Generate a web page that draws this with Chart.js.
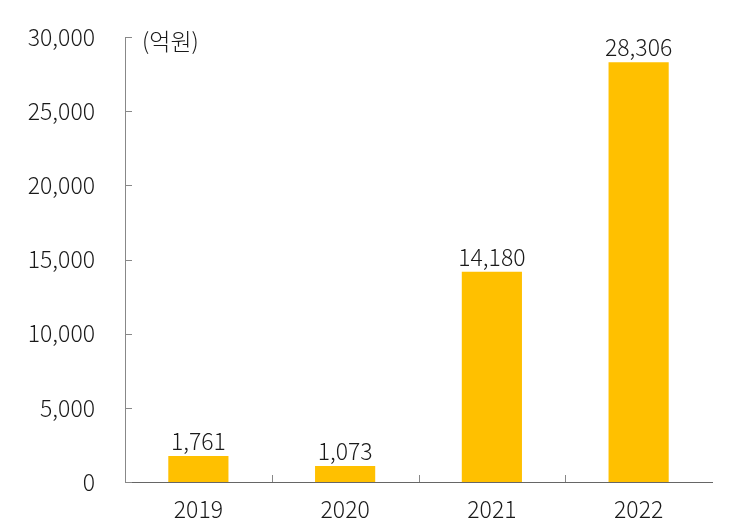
<!DOCTYPE html>
<html>
<head>
<meta charset="utf-8">
<script src="https://cdn.jsdelivr.net/npm/chart.js@4"></script>
<style>
  html, body { margin: 0; padding: 0; background: #fff; }
  #wrap { width: 730px; height: 525px; }
</style>
</head>
<body>
<div id="wrap"><canvas id="chart" width="730" height="525"></canvas></div>
<script>
const years = ["2019", "2020", "2021", "2022"];
const amounts = [1761, 1073, 14180, 28306];
const yTicks = [0, 5000, 10000, 15000, 20000, 25000, 30000];
const unitLabel = "(억원)";

const FONT = "'Noto Sans CJK KR', 'Noto Sans', sans-serif";

// inner tick marks + value labels + unit text
const decorPlugin = {
  id: "decor",
  afterDraw(chart) {
    const ctx = chart.ctx;
    const x = chart.scales.x;
    const y = chart.scales.y;
    const area = chart.chartArea;
    ctx.save();
    ctx.strokeStyle = "#888";
    ctx.lineWidth = 1;
    yTicks.forEach(v => {
      const py = Math.round(y.getPixelForValue(v)) + 0.5;
      ctx.beginPath();
      ctx.moveTo(area.left, py);
      ctx.lineTo(area.left + 7, py);
      ctx.stroke();
    });
    for (let i = 1; i < years.length; i++) {
      const px = Math.round((x.getPixelForValue(i - 1) + x.getPixelForValue(i)) / 2) + 0.5;
      ctx.beginPath();
      ctx.moveTo(px, area.bottom);
      ctx.lineTo(px, area.bottom - 7);
      ctx.stroke();
    }

    ctx.fillStyle = "#1a1a1a";
    ctx.font = "300 23px " + FONT;
    ctx.textAlign = "center";
    ctx.textBaseline = "bottom";
    const meta = chart.getDatasetMeta(0);
    meta.data.forEach((bar, i) => {
      ctx.fillText(amounts[i].toLocaleString("en-US"), bar.x, bar.y - 3);
    });

    ctx.textAlign = "left";
    ctx.textBaseline = "middle";
    ctx.fillText(unitLabel, area.left + 17, area.top + 4);
    ctx.restore();
  }
};

new Chart(document.getElementById("chart"), {
  type: "bar",
  data: {
    labels: years,
    datasets: [{
      data: amounts,
      backgroundColor: "#FFC000",
      categoryPercentage: 0.41,
      barPercentage: 1
    }]
  },
  options: {
    responsive: false,
    animation: false,
    devicePixelRatio: 1,
    layout: { padding: { top: 37, right: 18, left: 0, bottom: 0 } },
    plugins: { legend: { display: false }, tooltip: { enabled: false } },
    scales: {
      x: {
        grid: { display: false, drawTicks: false },
        border: { color: "#666", width: 1 },
        ticks: { color: "#1a1a1a", font: { family: FONT, size: 23, weight: 300 }, padding: 13 },
        afterFit(s) { s.height = 43; s.paddingLeft = 0; s.paddingRight = 0; }
      },
      y: {
        min: 0,
        max: 30000,
        afterBuildTicks(s) { s.ticks = yTicks.map(v => ({ value: v })); },
        grid: { display: false, drawTicks: false },
        border: { color: "#888", width: 1 },
        ticks: {
          color: "#1a1a1a",
          font: { family: FONT, size: 23, weight: 300 },
          padding: 30,
          callback: v => v.toLocaleString("en-US")
        },
        afterFit(s) { s.width = 125; s.paddingTop = 0; s.paddingBottom = 0; }
      }
    }
  },
  plugins: [decorPlugin]
});
</script>
</body>
</html>
